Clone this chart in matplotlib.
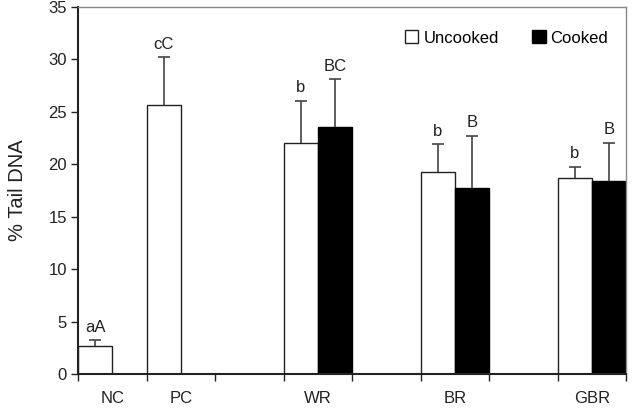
import matplotlib
matplotlib.use("Agg")
import matplotlib.pyplot as plt
import numpy as np
from matplotlib.patches import Patch

plt.rcParams['font.family'] = ['Liberation Sans', 'DejaVu Sans']

categories = ['NC', 'PC', '', 'WR', '', 'BR', '', 'GBR']
groups = ['NC', 'PC', 'WR', 'BR', 'GBR']
uncooked = [2.65, 25.65, 22.0, 19.3, 18.65]
uncooked_err = [0.55, 4.55, 4.05, 2.6, 1.1]
uncooked_labels = ['aA', 'cC', 'b', 'b', 'b']
cooked_groups = ['WR', 'BR', 'GBR']
cooked = [23.6, 17.7, 18.45]
cooked_err = [4.5, 5.0, 3.6]
cooked_labels = ['BC', 'B', 'B']

FS = 12
TXT = '#222222'

fig = plt.figure(figsize=(6.35, 4.08), dpi=100)
ax = fig.add_axes([78/635, 1-374/408, (626-78)/635, (374-7)/408])

w = 0.5
ux = np.array([categories.index(g) for g in groups]) - w/2
cx = np.array([categories.index(g) for g in cooked_groups]) + w/2

ax.bar(ux, uncooked, width=w, color='white', edgecolor='#222222', linewidth=1.0, zorder=2)
ax.bar(cx, cooked, width=w, color='black', edgecolor='black', linewidth=1.0, zorder=2)

ecol = '#444444'
for xs, vs, es in [(ux, uncooked, uncooked_err), (cx, cooked, cooked_err)]:
    _, caps, _ = ax.errorbar(xs, vs, yerr=[np.zeros(len(vs)), es], fmt='none',
                             ecolor=ecol, elinewidth=1.2, capsize=4, capthick=1.2, zorder=3)
    caps[0].set_visible(False)

for x, v, e, t in zip(ux, uncooked, uncooked_err, uncooked_labels):
    ax.annotate(t, (x, v + e), xytext=(0, 4), textcoords='offset points',
                ha='center', va='bottom', fontsize=FS, color=TXT)
for x, v, e, t in zip(cx, cooked, cooked_err, cooked_labels):
    ax.annotate(t, (x, v + e), xytext=(0, 4), textcoords='offset points',
                ha='center', va='bottom', fontsize=FS, color=TXT)

ax.set_xlim(-0.5, len(categories) - 0.5)
ax.set_ylim(0, 35)
ax.set_yticks(np.arange(0, 36, 5))
ax.set_xticks(np.arange(len(categories)))
ax.set_xticklabels(categories, fontsize=FS, color=TXT)
ax.set_xticks(np.arange(-0.5, len(categories), 1), minor=True)
ax.tick_params(axis='x', which='major', length=0, pad=12)
ax.tick_params(axis='x', which='minor', length=5, width=1, direction='out', color='#222222')
ax.tick_params(axis='y', length=5, width=1, direction='out', labelsize=FS, pad=3,
               color='#222222', labelcolor=TXT)

ax.set_ylabel('% Tail DNA', fontsize=14.5, color=TXT, labelpad=15)

for s in ['left', 'bottom']:
    ax.spines[s].set_color('#222222')
    ax.spines[s].set_linewidth(1.5)
for s in ['top', 'right']:
    ax.spines[s].set_color('#888888')
    ax.spines[s].set_linewidth(1.0)

handles = [Patch(facecolor='white', edgecolor='#222222', label='Uncooked'),
           Patch(facecolor='black', edgecolor='black', label='Cooked')]
ax.legend(handles=handles, loc='upper right', bbox_to_anchor=(0.995, 0.977), ncol=2,
          frameon=False, fontsize=FS, handlelength=0.8, handleheight=0.8,
          handletextpad=0.3, columnspacing=2.0)

fig.savefig('out.png', dpi=100)
